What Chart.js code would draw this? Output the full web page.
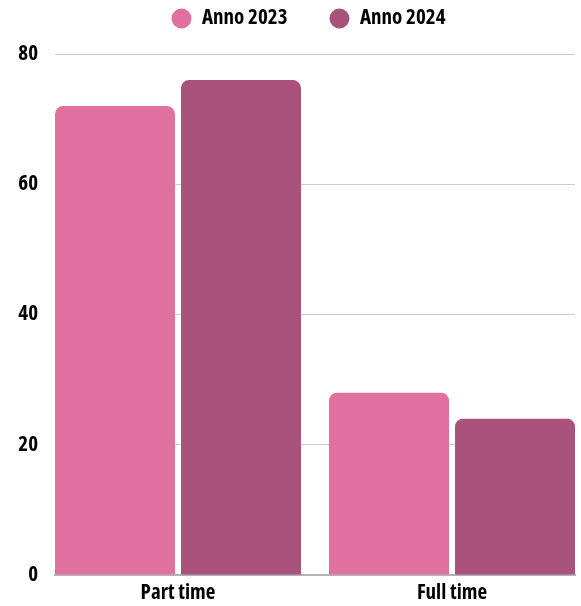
<!DOCTYPE html>
<html>
<head>
<meta charset="utf-8">
<script src="https://cdn.jsdelivr.net/npm/chart.js@4.4.1/dist/chart.umd.min.js"></script>
<style>
html,body{margin:0;padding:0;background:#fff;overflow:hidden}
#wrap{width:581px;height:606px;position:relative}
</style>
</head>
<body>
<div id="wrap"><canvas id="c"></canvas></div>
<script>
const categories = ['Part time', 'Full time'];
const seriesNames = ['Anno 2023', 'Anno 2024'];
const values2023 = [72, 28];
const values2024 = [76, 24];
const yTicks = [0, 20, 40, 60, 80];
const seriesColors = ['#E0719F', '#A9527B'];

const FONT = "'Open Sans', sans-serif";
Chart.defaults.font.family = FONT;
const W = 'bold condensed';
const FS = 21;

const LEG_PAD = 42;
const half = 123 / 274;

const toPoints = vals => vals.map((v, i) => ({ x: i, y: v }));

// let the y tick labels draw in the space left of the axis box
const yLabelRoom = {
  id: 'yLabelRoom',
  afterLayout(chart) {
    const y = chart.scales.y;
    y.left = 0;
    y.width = y.right;
  }
};

new Chart(document.getElementById('c'), {
  type: 'bar',
  data: {
    datasets: [
      { label: seriesNames[0], data: toPoints(values2023), backgroundColor: seriesColors[0], borderWidth: 0, borderRadius: 8 },
      { label: seriesNames[1], data: toPoints(values2024), backgroundColor: seriesColors[1], borderWidth: 0, borderRadius: 8 }
    ]
  },
  plugins: [yLabelRoom],
  options: {
    responsive: true,
    maintainAspectRatio: false,
    animation: false,
    categoryPercentage: 252 / 274,
    barPercentage: 120 / 126,
    layout: { padding: { top: 8 - LEG_PAD, left: 42, right: 6, bottom: 0 } },
    plugins: {
      tooltip: { enabled: false },
      legend: {
        position: 'top',
        align: 'center',
        fullSize: true,
        labels: {
          usePointStyle: true,
          pointStyle: 'circle',
          boxHeight: 20 / Math.SQRT2,
          pointStyleWidth: 20,
          padding: LEG_PAD,
          color: '#000',
          font: { size: FS, weight: W }
        }
      },
      title: {
        display: true,
        text: '',
        weight: 500,
        fullSize: false,
        padding: { top: 15, bottom: 0 },
        font: { size: 1, lineHeight: 0 }
      }
    },
    scales: {
      x: {
        type: 'linear',
        offset: false,
        min: -half,
        max: 1 + half,
        bounds: 'data',
        grid: { display: false, drawTicks: false, offset: false },
        border: { display: true, color: '#b3b3b3', width: 2 },
        afterBuildTicks: s => { s.ticks = categories.map((_, i) => ({ value: i })); },
        afterFit: s => { s.height = 31; },
        ticks: {
          color: '#000',
          padding: 5,
          font: { size: FS, weight: W },
          callback: v => categories[v]
        }
      },
      y: {
        min: 0,
        max: 80,
        grid: { color: '#cccccc', lineWidth: 1, drawTicks: false },
        border: { display: false },
        afterBuildTicks: s => { s.ticks = yTicks.map(v => ({ value: v })); },
        afterFit: s => { s.width = 13; },
        ticks: {
          color: '#000',
          padding: 17,
          font: { size: FS, weight: W }
        }
      }
    }
  }
});
</script>
</body>
</html>
